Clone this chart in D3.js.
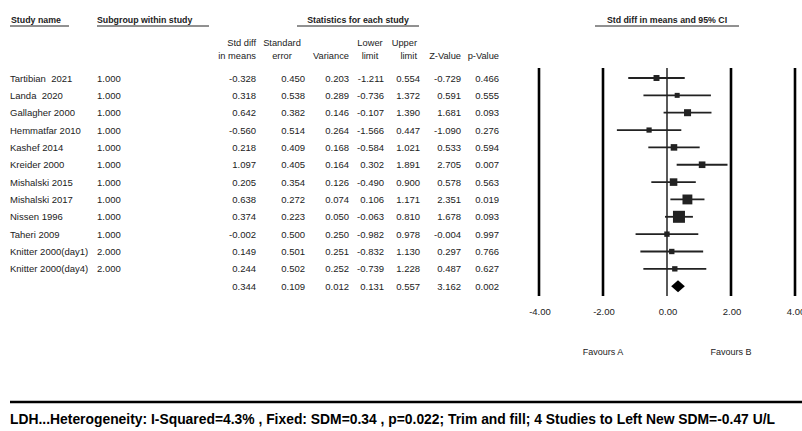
<!DOCTYPE html>
<html>
<head>
  <meta charset="utf-8">
  <title>Forest plot</title>
  <script src="https://cdn.jsdelivr.net/npm/d3@7"></script>
  <style>
    body { margin: 0; background: #fff; }
    text { font-family: "Liberation Sans", Arial, sans-serif; fill: #222; }
  </style>
</head>
<body>
<script>
  var studies = ["Tartibian  2021", "Landa  2020", "Gallagher 2000", "Hemmatfar 2010", "Kashef 2014",
    "Kreider 2000", "Mishalski 2015", "Mishalski 2017", "Nissen 1996", "Taheri 2009",
    "Knitter 2000(day1)", "Knitter 2000(day4)"];
  var subgroup = [1, 1, 1, 1, 1, 1, 1, 1, 1, 1, 2, 2];
  var stdDiff = [-0.328, 0.318, 0.642, -0.560, 0.218, 1.097, 0.205, 0.638, 0.374, -0.002, 0.149, 0.244];
  var stdErr = [0.450, 0.538, 0.382, 0.514, 0.409, 0.405, 0.354, 0.272, 0.223, 0.500, 0.501, 0.502];
  var variance = [0.203, 0.289, 0.146, 0.264, 0.168, 0.164, 0.126, 0.074, 0.050, 0.250, 0.251, 0.252];
  var lower = [-1.211, -0.736, -0.107, -1.566, -0.584, 0.302, -0.490, 0.106, -0.063, -0.982, -0.832, -0.739];
  var upper = [0.554, 1.372, 1.390, 0.447, 1.021, 1.891, 0.900, 1.171, 0.810, 0.978, 1.130, 1.228];
  var zValue = [-0.729, 0.591, 1.681, -1.090, 0.533, 2.705, 0.578, 2.351, 1.678, -0.004, 0.297, 0.487];
  var pValue = [0.466, 0.555, 0.093, 0.276, 0.594, 0.007, 0.563, 0.019, 0.093, 0.997, 0.766, 0.627];
  // fixed effect summary: sdm, se, variance, lower, upper, z, p
  var summary = [0.344, 0.109, 0.012, 0.131, 0.557, 3.162, 0.002];
  var xTicks = [-4, -2, 0, 2, 4];
  var footer = "LDH...Heterogeneity: I-Squared=4.3% , Fixed: SDM=0.34 , p=0.022; Trim and fill; 4 Studies to Left New SDM=-0.47 U/L";

  var width = 802, height = 431;
  var svg = d3.select("body").append("svg")
    .attr("width", width)
    .attr("height", height);

  var rows = studies.concat(["__summary"]);
  var y = d3.scalePoint().domain(rows).range([78, 286.2]);
  var x = d3.scaleLinear().domain([-4, 4]).range([539, 795]);
  var size = d3.scaleSqrt().domain([0, d3.max(variance, function(v) { return 1 / v; })]).range([0, 12]);
  var fmt = function(v) { return v.toFixed(3); };

  // section headers
  var heads = [
    {t: "Study name", x: 11, anchor: "start", x1: 10, x2: 69},
    {t: "Subgroup within study", x: 97, anchor: "start", x1: 97, x2: 209},
    {t: "Statistics for each study", x: 358, anchor: "middle", x1: 297, x2: 419},
    {t: "Std diff in means and 95% CI", x: 667, anchor: "middle", x1: 595, x2: 739}
  ];
  svg.selectAll(".head").data(heads).enter().append("text")
    .attr("x", function(d) { return d.x; })
    .attr("y", 22.5)
    .attr("text-anchor", function(d) { return d.anchor; })
    .style("font-size", "8.8px")
    .style("font-weight", "bold")
    .text(function(d) { return d.t; });
  svg.selectAll(".headline").data(heads).enter().append("line")
    .attr("x1", function(d) { return d.x1; })
    .attr("x2", function(d) { return d.x2; })
    .attr("y1", 26).attr("y2", 26)
    .attr("stroke", "#222").attr("stroke-width", 1);

  // statistics columns
  var cols = [
    {h: ["Std diff", "in means"], v: stdDiff, right: 256, hx: 256, ha: "end"},
    {h: ["Standard", "error"], v: stdErr, right: 305, hx: 282, ha: "middle"},
    {h: ["", "Variance"], v: variance, right: 349, hx: 349, ha: "end"},
    {h: ["Lower", "limit"], v: lower, right: 384, hx: 370, ha: "middle"},
    {h: ["Upper", "limit"], v: upper, right: 420, hx: 417, ha: "end"},
    {h: ["", "Z-Value"], v: zValue, right: 461, hx: 461, ha: "end"},
    {h: ["", "p-Value"], v: pValue, right: 499, hx: 499, ha: "end"}
  ];
  cols.forEach(function(c, ci) {
    c.h.forEach(function(line, li) {
      svg.append("text")
        .attr("x", c.hx)
        .attr("y", 45.5 + li * 13.5)
        .attr("text-anchor", c.ha)
        .style("font-size", "9.3px")
        .text(line);
    });
    svg.append("g").selectAll("text")
      .data(c.v.concat([summary[ci]]))
      .enter().append("text")
      .attr("x", c.right)
      .attr("y", function(d, i) { return y(rows[i]) + 3.5; })
      .attr("text-anchor", "end")
      .style("font-size", "9.5px")
      .text(fmt);
  });

  svg.append("g").selectAll("text").data(studies).enter().append("text")
    .attr("x", 10)
    .attr("y", function(d) { return y(d) + 3.5; })
    .style("font-size", "9.5px")
    .style("white-space", "pre")
    .attr("xml:space", "preserve")
    .text(function(d) { return d; });

  svg.append("g").selectAll("text").data(subgroup).enter().append("text")
    .attr("x", 97)
    .attr("y", function(d, i) { return y(studies[i]) + 3.5; })
    .style("font-size", "9.5px")
    .text(function(d) { return d.toFixed(3); });

  // forest plot reference lines
  svg.append("g").selectAll("line").data(xTicks).enter().append("line")
    .attr("x1", function(d) { return x(d); })
    .attr("x2", function(d) { return x(d); })
    .attr("y1", 68).attr("y2", 296)
    .attr("stroke", "#000")
    .attr("stroke-width", function(d) { return d === 0 ? 1.3 : 2.6; });

  svg.append("g").selectAll("text").data(xTicks).enter().append("text")
    .attr("x", function(d) { return x(d) + 1; })
    .attr("y", 315)
    .attr("text-anchor", "middle")
    .style("font-size", "9.5px")
    .text(function(d) { return d.toFixed(2); });

  // confidence intervals
  svg.append("g").selectAll("line").data(studies).enter().append("line")
    .attr("x1", function(d, i) { return x(lower[i]); })
    .attr("x2", function(d, i) { return x(upper[i]); })
    .attr("y1", function(d) { return y(d); })
    .attr("y2", function(d) { return y(d); })
    .attr("stroke", "#222")
    .attr("stroke-width", 1.8);

  svg.append("g").selectAll("rect").data(studies).enter().append("rect")
    .attr("x", function(d, i) { return x(stdDiff[i]) - size(1 / variance[i]) / 2; })
    .attr("y", function(d, i) { return y(d) - size(1 / variance[i]) / 2; })
    .attr("width", function(d, i) { return size(1 / variance[i]); })
    .attr("height", function(d, i) { return size(1 / variance[i]); })
    .attr("fill", "#222");

  // summary diamond
  var sy = y("__summary");
  svg.append("path")
    .attr("d", "M" + x(summary[3]) + "," + sy +
      "L" + x(summary[0]) + "," + (sy - 6) +
      "L" + x(summary[4]) + "," + sy +
      "L" + x(summary[0]) + "," + (sy + 6) + "Z")
    .attr("fill", "#000");

  svg.append("text").attr("x", x(-2)).attr("y", 355)
    .attr("text-anchor", "middle").style("font-size", "9px").text("Favours A");
  svg.append("text").attr("x", x(2)).attr("y", 355)
    .attr("text-anchor", "middle").style("font-size", "9px").text("Favours B");

  // footer
  svg.append("line")
    .attr("x1", 10).attr("x2", width)
    .attr("y1", 402).attr("y2", 402)
    .attr("stroke", "#000").attr("stroke-width", 2.5);
  svg.append("text")
    .attr("x", 10).attr("y", 424)
    .attr("textLength", 765)
    .attr("lengthAdjust", "spacingAndGlyphs")
    .style("font-family", "'Liberation Sans Narrow', 'Arial Narrow', 'Liberation Sans', Arial, sans-serif")
    .style("font-size", "15.5px")
    .style("font-weight", "bold")
    .style("fill", "#000")
    .text(footer);
</script>
</body>
</html>
